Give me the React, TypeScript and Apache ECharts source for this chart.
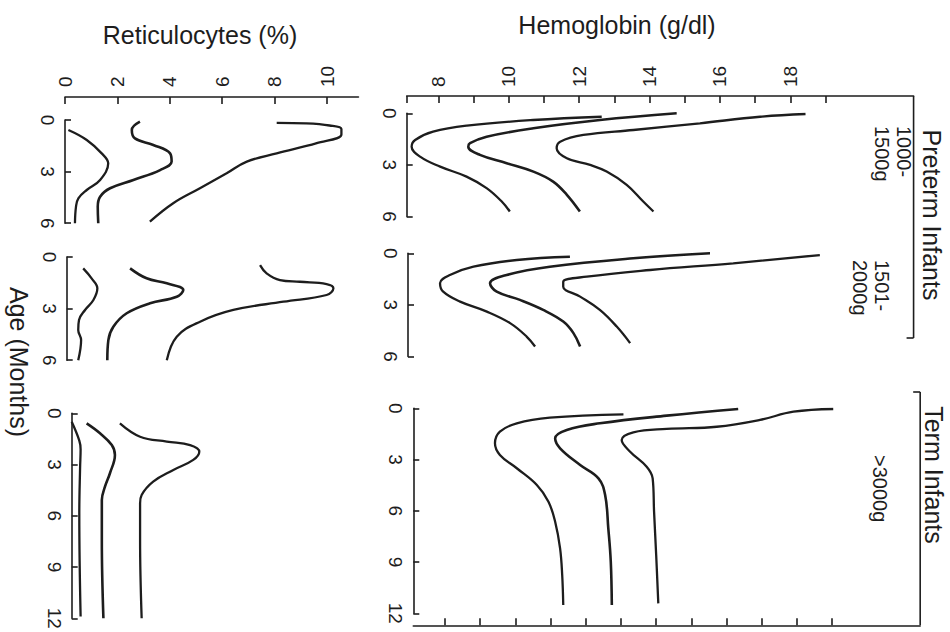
import React, { useEffect, useRef } from "react";
import * as echarts from "echarts";

// ---------- Data: [value, age in months] ----------
// Hemoglobin (g/dl), preterm 1000-1500 g
const hbPre1000Low = [[12.64,0.2],[10.69,0.39],[8.81,0.72],[7.85,1.07],[7.34,1.55],[7.24,1.94],[7.48,2.52],[8.05,3.1],[8.8,3.68],[9.37,4.35],[9.8,5.13],[10.03,5.71]];
const hbPre1000Mid = [[14.77,0.0],[12.59,0.39],[10.7,0.87],[9.37,1.36],[8.9,1.74],[8.85,1.94],[9.18,2.42],[9.94,2.9],[10.7,3.39],[11.26,3.97],[11.65,4.74],[12.02,5.71]];
const hbPre1000High = [[18.43,0.04],[17.14,0.2],[15.43,0.58],[13.54,0.97],[12.12,1.26],[11.46,1.65],[11.36,2.03],[11.65,2.61],[12.31,3.0],[12.78,3.39],[13.35,4.16],[13.82,5.13],[14.11,5.71]];
// Hemoglobin, preterm 1501-2000 g
const hbPre1501Low = [[11.7,0.2],[10.19,0.39],[8.96,0.78],[8.29,1.26],[8.01,1.74],[8.1,2.23],[8.58,2.81],[9.34,3.39],[10.0,4.06],[10.47,4.84],[10.71,5.42]];
const hbPre1501Mid = [[15.68,0.0],[13.5,0.29],[11.13,0.78],[9.9,1.26],[9.43,1.74],[9.62,2.23],[10.28,2.71],[10.94,3.29],[11.51,3.97],[11.8,4.64],[11.99,5.42]];
const hbPre1501High = [[18.8,0.1],[16.34,0.58],[13.98,0.97],[12.18,1.36],[11.51,1.65],[11.51,1.94],[11.99,2.52],[12.55,3.29],[13.03,4.26],[13.41,5.22]];
// Hemoglobin, term >3000 g
const hbTermLow = [[13.07,0.35],[10.98,0.55],[10.04,0.88],[9.56,1.37],[9.42,2.05],[9.56,2.73],[10.04,3.51],[10.61,4.49],[10.94,5.47],[11.13,6.64],[11.27,8.2],[11.33,9.76],[11.36,11.52]];
const hbTermMid = [[16.33,0.04],[14.3,0.43],[12.4,0.88],[11.46,1.27],[11.13,1.76],[11.27,2.34],[11.84,3.32],[12.36,4.1],[12.55,5.08],[12.64,7.03],[12.71,8.98],[12.74,11.52]];
const hbTermHigh = [[19.03,0.04],[17.9,0.2],[16.95,0.68],[15.72,1.08],[14.3,1.21],[13.35,1.41],[13.02,1.86],[13.26,2.54],[13.73,3.42],[13.9,4.1],[13.94,6.05],[14.0,8.59],[14.06,11.42]];

// Reticulocytes (%), preterm 1000-1500 g
const retPre1000Low = [[0.13,0.58],[0.83,1.16],[1.4,1.94],[1.65,2.52],[1.34,3.49],[0.83,4.07],[0.51,4.55],[0.42,5.04],[0.38,6.0]];
const retPre1000Mid = [[2.86,0.1],[2.55,0.58],[2.67,1.07],[3.37,1.45],[4.01,1.94],[4.07,2.42],[3.63,2.91],[2.61,3.49],[1.72,3.97],[1.34,4.46],[1.25,5.04],[1.27,6.0]];
const retPre1000High = [[8.08,0.17],[9.2,0.2],[10.1,0.32],[10.55,0.52],[10.55,0.85],[9.61,1.35],[8.08,1.94],[6.94,2.42],[6.17,3.1],[5.15,3.97],[4.13,4.84],[3.24,5.91]];
// Reticulocytes, preterm 1501-2000 g
const retPre1501Low = [[0.63,0.66],[0.95,1.24],[1.17,1.82],[1.02,2.5],[0.7,3.08],[0.47,3.66],[0.44,4.24],[0.55,4.83],[0.44,6.0]];
const retPre1501Mid = [[2.42,0.66],[3.05,1.24],[3.82,1.53],[4.45,1.92],[4.2,2.31],[3.18,2.69],[2.29,3.27],[1.78,4.05],[1.59,4.83],[1.55,6.0]];
const retPre1501High = [[7.38,0.47],[7.63,0.95],[8.14,1.34],[8.9,1.44],[9.92,1.57],[10.18,1.82],[9.92,2.21],[8.27,2.6],[6.36,3.08],[5.09,3.76],[4.2,4.63],[3.82,6.0]];
// Reticulocytes, term >3000 g
const retTermLow = [[0.0,0.5],[0.29,1.6],[0.34,2.1],[0.32,3.2],[0.29,5.9],[0.34,11.9]];
const retTermMid = [[0.57,0.59],[1.08,1.17],[1.53,1.86],[1.65,2.44],[1.46,3.51],[1.27,4.3],[1.15,5.08],[1.15,7.42],[1.21,12.0]];
const retTermHigh = [[1.84,0.59],[2.61,1.37],[3.63,1.66],[4.52,1.86],[4.87,2.25],[4.64,2.73],[3.88,3.32],[3.11,4.0],[2.67,4.78],[2.61,5.27],[2.61,7.42],[2.67,12.0]];

// Axis ticks / labels
const hbTicks = [8, 9, 10, 11, 12, 13, 14, 15, 16, 17, 18, 19];
const hbLabels = [8, 10, 12, 14, 16, 18];
const retTicks = [0, 2, 4, 6, 8, 10];
const retLabels = [0, 2, 4, 6, 8, 10];
const agePreterm = [0, 3, 6];
const ageTerm = [0, 3, 6, 9, 12];

// ---------- Layout ----------
const FONT = "Liberation Sans, Arial, Helvetica, sans-serif";
const INK = "#1d1d1d";
const HB_MIN = 7.1, HB_MAX = 21.5, HB_PX = 35.2;
const RET_MIN = 0, RET_MAX = 11.2, RET_PX = 26.2;
const AGE_PX = 17.2;
const HB_W = (HB_MAX - HB_MIN) * HB_PX;
const RET_W = (RET_MAX - RET_MIN) * RET_PX;

const grids = [
  { left: 65, top: 120, width: RET_W, height: 6 * AGE_PX },
  { left: 66.7, top: 257, width: RET_W, height: 6 * AGE_PX },
  { left: 71.7, top: 413.3, width: RET_W, height: 12 * 17.08 },
  { left: 406.7, top: 113.3, width: HB_W, height: 6 * AGE_PX },
  { left: 408, top: 253.3, width: HB_W, height: 6 * AGE_PX },
  { left: 413.3, top: 408.3, width: HB_W, height: 12 * 17.08 },
];
const HB_AXIS_Y = 96;
const RET_AXIS_Y = 97;
const BOTTOM_OFFSET = 12;

export default function App() {
  const ref = useRef<HTMLDivElement>(null);
  useEffect(() => {
    if (!ref.current) return;
    const chart = echarts.init(ref.current, null, { renderer: "svg" });

    const tickLabel = { color: INK, fontSize: 19, fontFamily: FONT };
    const hiddenX = (min: number, max: number, gi: number) => ({
      type: "value", gridIndex: gi, min, max, show: false,
    });
    const ageAxis = (gi: number, max: number, ticks: number[]) => ({
      type: "value", gridIndex: gi, min: 0, max, inverse: true, position: "left",
      axisLine: { show: true, onZero: false, lineStyle: { color: INK, width: 1.6 } },
      axisTick: { show: true, inside: true, length: 6, customValues: ticks, lineStyle: { color: INK, width: 1.6 } },
      axisLabel: { show: true, customValues: ticks, rotate: -90, margin: 8, ...tickLabel },
      splitLine: { show: false },
    });

    const xAxis: any[] = [
      {
        type: "value", gridIndex: 0, min: RET_MIN, max: RET_MAX, position: "top",
        offset: grids[0].top - RET_AXIS_Y,
        axisLine: { show: true, onZero: false, lineStyle: { color: INK, width: 1.6 } },
        axisTick: { show: true, inside: true, length: 7, customValues: retTicks, lineStyle: { color: INK, width: 1.6 } },
        axisLabel: { show: true, customValues: retLabels, rotate: -90, margin: 10, ...tickLabel },
        splitLine: { show: false },
      },
      hiddenX(RET_MIN, RET_MAX, 1),
      hiddenX(RET_MIN, RET_MAX, 2),
      {
        type: "value", gridIndex: 3, min: HB_MIN, max: HB_MAX, position: "top",
        offset: grids[3].top - HB_AXIS_Y,
        axisLine: { show: true, onZero: false, lineStyle: { color: INK, width: 1.6 } },
        axisTick: { show: true, inside: true, length: 7, customValues: [HB_MIN, ...hbTicks], lineStyle: { color: INK, width: 1.6 } },
        axisLabel: { show: true, customValues: hbLabels, rotate: -90, margin: 9, ...tickLabel },
        splitLine: { show: false },
      },
      hiddenX(HB_MIN, HB_MAX, 4),
      {
        type: "value", gridIndex: 5, min: HB_MIN, max: HB_MAX, position: "bottom", offset: BOTTOM_OFFSET,
        axisLine: { show: true, onZero: false, lineStyle: { color: INK, width: 1.6 } },
        axisTick: { show: true, inside: true, length: 7, customValues: hbTicks, lineStyle: { color: INK, width: 1.6 } },
        axisLabel: { show: false },
        splitLine: { show: false },
      },
    ];
    const yAxis: any[] = [
      ageAxis(0, 6, agePreterm),
      ageAxis(1, 6, agePreterm),
      ageAxis(2, 12, ageTerm),
      ageAxis(3, 6, agePreterm),
      ageAxis(4, 6, agePreterm),
      ageAxis(5, 12, ageTerm),
    ];

    const curve = (data: number[][], gi: number, w = 2.3) => ({
      type: "line", xAxisIndex: gi, yAxisIndex: gi, data, showSymbol: false,
      smooth: 0.4, silent: true, lineStyle: { color: INK, width: w },
    });

    const series = [
      curve(retPre1000Low, 0), curve(retPre1000Mid, 0, 2.6), curve(retPre1000High, 0),
      curve(retPre1501Low, 1), curve(retPre1501Mid, 1, 2.6), curve(retPre1501High, 1),
      curve(retTermLow, 2), curve(retTermMid, 2, 2.6), curve(retTermHigh, 2),
      curve(hbPre1000Low, 3), curve(hbPre1000Mid, 3, 2.6), curve(hbPre1000High, 3),
      curve(hbPre1501Low, 4), curve(hbPre1501Mid, 4, 2.6), curve(hbPre1501High, 4),
      curve(hbTermLow, 5), curve(hbTermMid, 5, 2.6), curve(hbTermHigh, 5),
    ];

    const g3 = grids[3], g5 = grids[5];
    const preX = g3.left + g3.width;
    const termX = g5.left + g5.width;
    const termBottom = g5.top + g5.height + BOTTOM_OFFSET;
    const big = { fill: INK, fontSize: 25, fontFamily: FONT };
    const sub = { fill: INK, fontSize: 20, fontFamily: FONT, lineHeight: 22 };
    const ln = (x1: number, y1: number, x2: number, y2: number) => ({
      type: "line", shape: { x1, y1, x2, y2 }, style: { stroke: INK, lineWidth: 1.6 }, silent: true,
    });

    const graphic: any[] = [
      { type: "text", x: 617, y: 25, style: { text: "Hemoglobin (g/dl)", align: "center", verticalAlign: "middle", ...big } },
      { type: "text", x: 200, y: 35, style: { text: "Reticulocytes (%)", align: "center", verticalAlign: "middle", ...big } },
      { type: "text", x: 19, y: 362, rotation: -Math.PI / 2, style: { text: "Age (Months)", align: "center", verticalAlign: "middle", ...big } },
      { type: "text", x: 932, y: 215, rotation: -Math.PI / 2, style: { text: "Preterm Infants", align: "center", verticalAlign: "middle", ...big } },
      { type: "text", x: 934, y: 475, rotation: -Math.PI / 2, style: { text: "Term Infants", align: "center", verticalAlign: "middle", ...big } },
      { type: "text", x: 893, y: 126, rotation: -Math.PI / 2, style: { text: "1000-\n1500g", align: "left", verticalAlign: "middle", ...sub } },
      { type: "text", x: 871, y: 260, rotation: -Math.PI / 2, style: { text: "1501-\n2000g", align: "left", verticalAlign: "middle", ...sub } },
      { type: "text", x: 880, y: 455, rotation: -Math.PI / 2, style: { text: ">3000g", align: "left", verticalAlign: "middle", ...sub } },
      ln(preX, HB_AXIS_Y, preX, 338),
      ln(preX, 338, preX - 7, 338),
      ln(termX - 7, 392, termX, 392),
      ln(termX, 392, termX, termBottom),
    ];

    chart.setOption({
      animation: false,
      backgroundColor: "#ffffff",
      grid: grids.map((g) => ({ ...g, containLabel: false })),
      xAxis,
      yAxis,
      series,
      graphic,
    });
    return () => chart.dispose();
  }, []);

  return (
    <div
      ref={ref}
      style={{ position: "fixed", left: 0, top: 0, width: 950, height: 632, background: "#fff" }}
    />
  );
}
